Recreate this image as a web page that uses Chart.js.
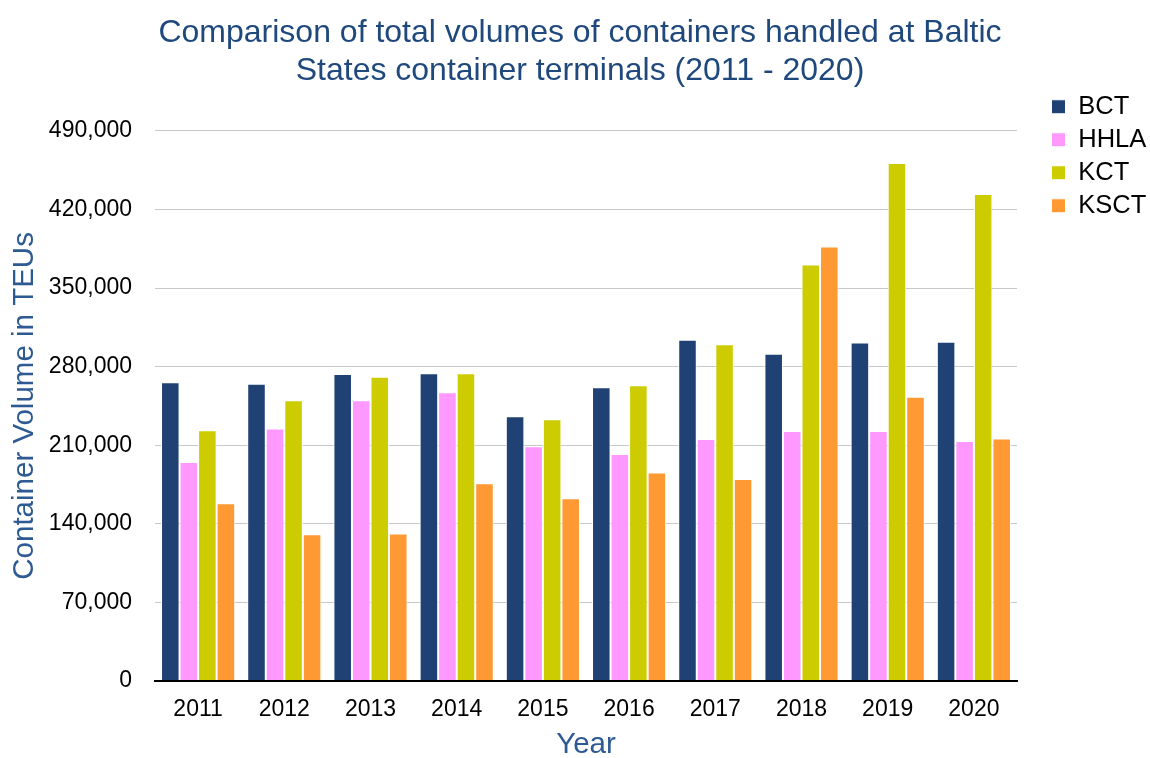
<!DOCTYPE html>
<html>
<head>
<meta charset="utf-8">
<script src="https://cdn.jsdelivr.net/npm/chart.js@4"></script>
<style>
  body { margin: 0; background: #fff; }
  #wrap { width: 1150px; height: 758px; }
</style>
</head>
<body>
<div id="wrap"><canvas id="chart"></canvas></div>
<script>
// Values (TEUs)
const years = ["2011", "2012", "2013", "2014", "2015", "2016", "2017", "2018", "2019", "2020"];
const bct = [266000, 264800, 273400, 274000, 235700, 261500, 303900, 291500, 301500, 302200];
const hhla = [195100, 224800, 250000, 257100, 209000, 202200, 215500, 222600, 222600, 213700];
const kct = [223300, 250000, 271000, 274000, 233000, 263300, 299800, 370900, 461400, 433800];
const ksct = [158300, 130800, 131400, 176100, 162800, 185600, 180000, 386900, 253200, 215900];

const yMax = 490000;
const yStep = 70000;

const fontFamily = "'Liberation Sans', Arial, sans-serif";

function bar(label, data, color) {
  return {
    label: label,
    data: data,
    backgroundColor: color,
    borderColor: "#ffffff",
    borderWidth: 1,
    categoryPercentage: 0.86,
    barPercentage: 1,
  };
}

const ctx = document.getElementById("chart");

new Chart(ctx, {
  type: "bar",
  data: {
    labels: years,
    datasets: [
      bar("BCT", bct, "#1f4173"),
      bar("HHLA", hhla, "#ff99ff"),
      bar("KCT", kct, "#cccc00"),
      bar("KSCT", ksct, "#ff9933"),
    ],
  },
  options: {
    responsive: true,
    maintainAspectRatio: false,
    animation: false,
    layout: { padding: { left: 10 } },
    plugins: {
      title: {
        display: true,
        text: [
          "Comparison of total volumes of containers handled at Baltic",
          "States container terminals (2011 - 2020)",
        ],
        color: "#1f497d",
        font: { family: fontFamily, size: 32, weight: "normal", lineHeight: 1.2 },
        padding: { top: 14, bottom: 40 },
      },
      legend: {
        position: "right",
        align: "start",
        fullSize: true,
        maxWidth: 106,
        title: {
          display: true,
          text: " ",
          font: { size: 12, lineHeight: 1 },
          padding: { top: 74.5, bottom: 0 },
        },
        labels: {
          boxWidth: 14,
          boxHeight: 14,
          padding: 7.5,
          color: "#000",
          font: { family: fontFamily, size: 25.5 },
        },
      },
      tooltip: { enabled: false },
    },
    scales: {
      x: {
        grid: { display: false, drawTicks: false },
        border: { display: true, color: "#000", width: 2 },
        ticks: {
          color: "#000",
          padding: 15,
          font: { family: fontFamily, size: 23, lineHeight: 1.2 },
        },
        title: {
          display: true,
          text: "Year",
          color: "#2e5a93",
          font: { family: fontFamily, size: 29.5, lineHeight: 0.9 },
          padding: { top: 0, bottom: 0 },
        },
        afterFit: (s) => { s.height = 77; },
      },
      y: {
        min: 0,
        max: yMax,
        grid: {
          drawTicks: false,
          color: (c) => (c.tick && c.tick.value === 0 ? "#000" : "#c8c8c8"),
          lineWidth: (c) => (c.tick && c.tick.value === 0 ? 2 : 1),
        },
        border: { display: false },
        ticks: {
          stepSize: yStep,
          color: "#000",
          padding: 23,
          font: { family: fontFamily, size: 23 },
          callback: (v) => v.toLocaleString("en-US"),
        },
        title: {
          display: true,
          text: "Container Volume in TEUs",
          color: "#2e5a93",
          font: { family: fontFamily, size: 29.5, lineHeight: 1 },
          padding: { top: 0, bottom: 0 },
        },
        afterFit: (s) => { s.width = 145; },
      },
      // empty axis on the right to keep the gap before the legend
      spacer: {
        type: "linear",
        position: "right",
        display: true,
        grid: { display: false },
        border: { display: false },
        ticks: { display: false },
        afterFit: (s) => { s.width = 27; },
      },
    },
  },
});
</script>
</body>
</html>
